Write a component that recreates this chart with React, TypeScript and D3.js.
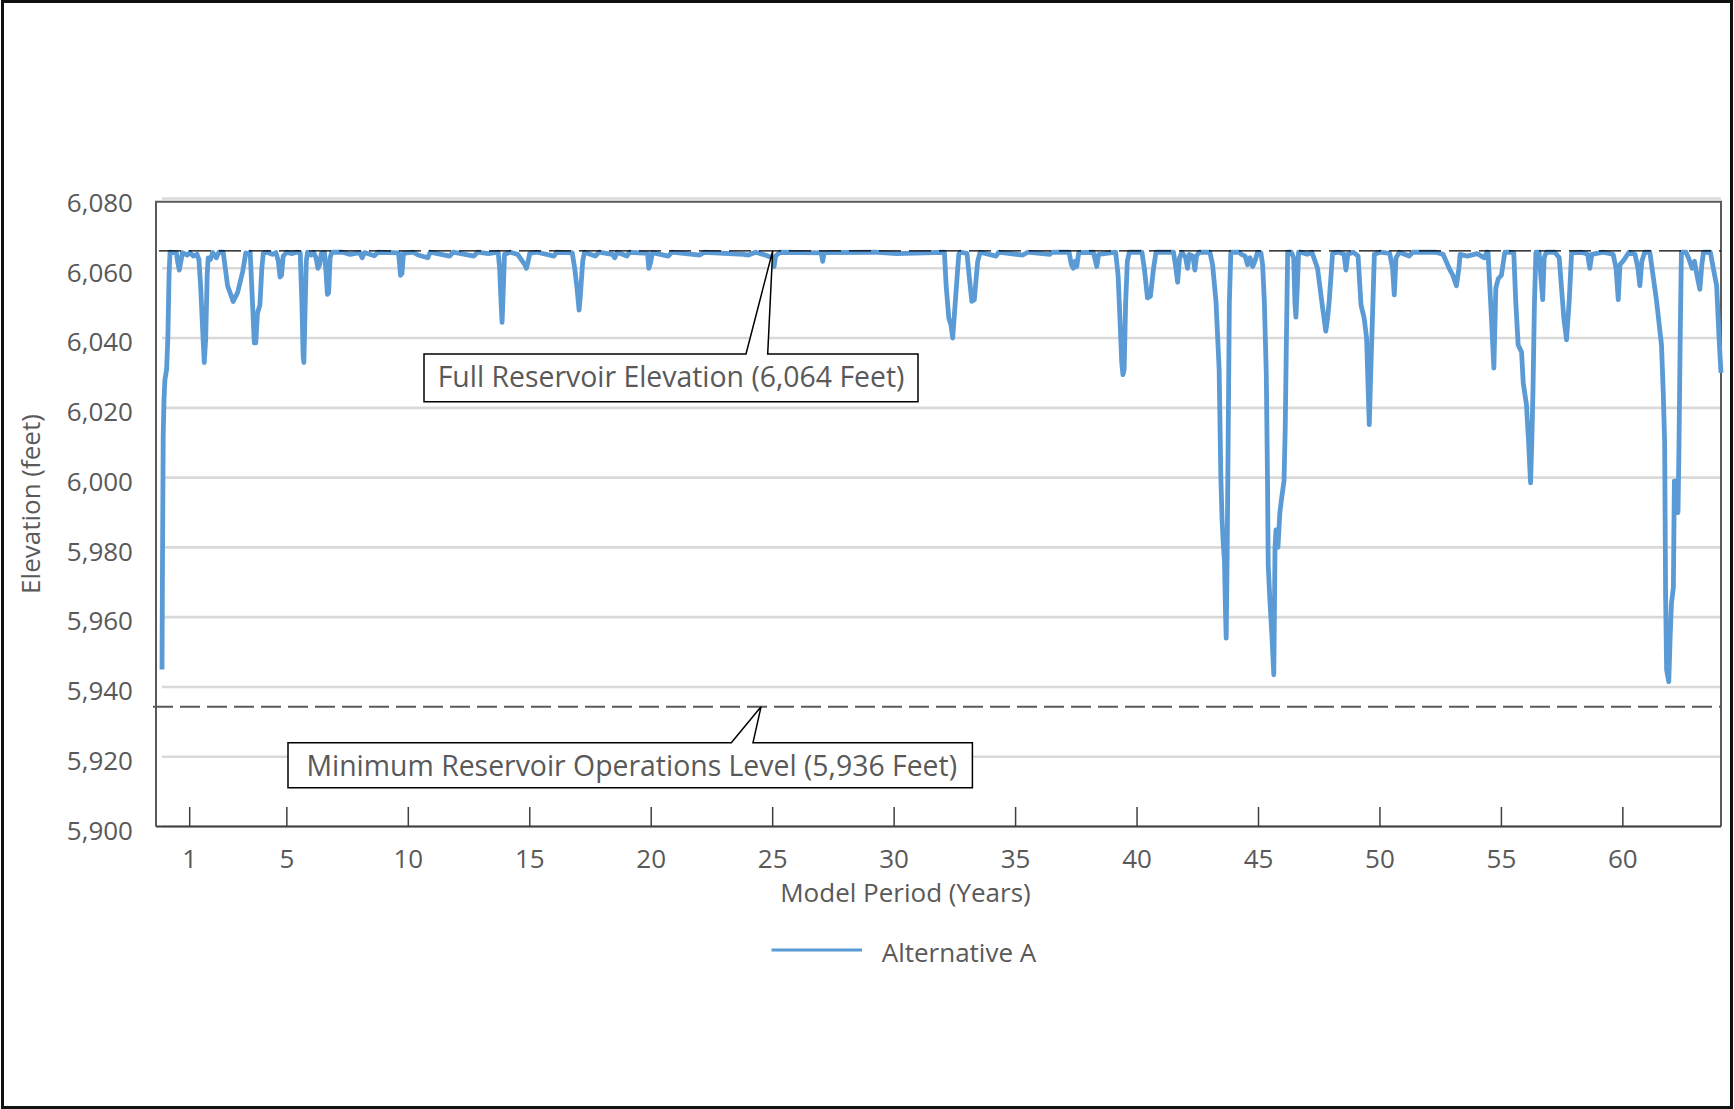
import React from "react";
import * as d3 from "d3";

// ---- data (Model Period year, elevation in feet) ----
const elevationYears0to13: [number, number][] = [
  [-0.14, 5945], [-0.12, 5975], [-0.09, 6012], [-0.06, 6022], [-0.02, 6028], [0.05, 6031], [0.1, 6040], [0.15, 6058], [0.19, 6064.6],
  [0.45, 6064.4], [0.5, 6062], [0.57, 6059.5], [0.64, 6062], [0.7, 6064.5], [0.9, 6063.8], [1.0, 6064.5], [1.15, 6063.5], [1.3, 6064], [1.38, 6062.5],
  [1.45, 6055], [1.55, 6040], [1.6, 6033], [1.66, 6040], [1.72, 6058], [1.76, 6063], [1.85, 6062.5], [1.95, 6064.5], [2.1, 6063], [2.2, 6064.6], [2.38, 6064.6],
  [2.56, 6055], [2.79, 6050.5], [2.97, 6053], [3.18, 6059], [3.31, 6064.4], [3.45, 6064],
  [3.49, 6064.6], [3.59, 6049.5], [3.66, 6038.6], [3.72, 6038.6], [3.79, 6047.1], [3.89, 6049.5], [3.97, 6060], [4.03, 6064.3],
  [4.2, 6064.6], [4.4, 6064], [4.55, 6064.5], [4.65, 6062], [4.72, 6057.5], [4.78, 6058], [4.85, 6063.5], [5.0, 6064.6], [5.2, 6064.2], [5.4, 6064.6],
  [5.55, 6064.5], [5.62, 6050], [5.67, 6035], [5.7, 6033], [5.74, 6045], [5.8, 6062], [5.85, 6064.6], [6.0, 6063.8], [6.1, 6064.6], [6.2, 6063], [6.28, 6060], [6.35, 6061],
  [6.42, 6064.3], [6.55, 6064.5], [6.62, 6058], [6.67, 6052.5], [6.72, 6053], [6.78, 6063], [6.85, 6064.6],
  [7.3, 6064.6], [7.6, 6064], [8.0, 6064.5], [8.1, 6063], [8.2, 6064.5], [8.6, 6063.6], [8.75, 6064.6], [9.6, 6064.4], [9.68, 6058], [9.74, 6058.5], [9.8, 6064.3],
  [10.2, 6064.6], [10.4, 6063.8], [10.8, 6063], [10.9, 6064.6], [11.7, 6063.5], [11.85, 6064.6], [12.7, 6063.5], [12.85, 6064.6],
];

const elevationYears13to32: [number, number][] = [
  [13.3, 6064.2], [13.7, 6064.6], [13.76, 6060], [13.82, 6050], [13.86, 6044.5], [13.9, 6052], [13.96, 6064], [14.2, 6064.6], [14.5, 6064],
  [14.8, 6061], [14.86, 6060], [14.92, 6061.5], [15.0, 6064.3], [15.3, 6064.6], [16.0, 6063.5], [16.1, 6064.6],
  [16.75, 6064.4], [16.85, 6060], [16.95, 6054], [17.03, 6048], [17.08, 6052], [17.18, 6062], [17.25, 6064.6],
  [17.7, 6063.5], [17.85, 6064.6], [18.4, 6064], [18.5, 6063], [18.6, 6064.6], [19.0, 6063.5], [19.1, 6064.6],
  [19.85, 6064.3], [19.9, 6060], [19.97, 6061.5], [20.05, 6064.5], [20.7, 6063.5], [20.85, 6064.6], [22.0, 6063.8], [22.2, 6064.6],
  [23.8, 6064], [24.0, 6063.8], [24.3, 6064.6], [24.6, 6064], [25.0, 6063], [25.06, 6060.5], [25.12, 6063.5], [25.3, 6064.6],
  [27.0, 6064.4], [27.06, 6062], [27.12, 6064.5], [29.2, 6064.6], [30.1, 6064.2], [32.07, 6064.6],
];

const elevationYears32to48: [number, number][] = [
  [32.14, 6055.2], [32.25, 6045.7], [32.34, 6043.8], [32.41, 6040], [32.52, 6050.5], [32.66, 6064], [32.72, 6064.6], [33.0, 6064.3],
  [33.1, 6057], [33.2, 6050.5], [33.3, 6051], [33.44, 6062], [33.54, 6064.6], [34.2, 6063.5], [34.3, 6064.6], [35.3, 6063.8], [35.5, 6064.6],
  [36.4, 6064], [36.5, 6064.6], [37.2, 6064.6], [37.3, 6061], [37.38, 6060], [37.45, 6062], [37.52, 6060.5], [37.6, 6064.5],
  [38.2, 6064.6], [38.34, 6060.5], [38.42, 6064], [39.12, 6064.6],
  [39.22, 6058], [39.3, 6045], [39.37, 6033], [39.42, 6029.5], [39.47, 6031], [39.53, 6050], [39.6, 6062], [39.68, 6064.6],
  [40.2, 6064.6], [40.3, 6060], [40.43, 6051.5], [40.55, 6052], [40.68, 6060], [40.78, 6064.6], [41.5, 6064.6], [41.6, 6060], [41.67, 6056],
  [41.75, 6063], [41.85, 6064.6], [42.0, 6063], [42.08, 6060], [42.15, 6064], [42.3, 6063.5], [42.38, 6059.5], [42.45, 6063.5], [42.55, 6064.6], [43.0, 6064.6],
  [43.11, 6061], [43.25, 6050.5], [43.38, 6031], [43.45, 6000], [43.5, 5988], [43.55, 5981], [43.6, 5976], [43.64, 5962], [43.67, 5954],
  [43.71, 5978], [43.75, 6010], [43.8, 6050], [43.86, 6064.6],
  [44.2, 6064.6], [44.3, 6064], [44.45, 6063.5], [44.55, 6061], [44.65, 6063], [44.76, 6060.5], [44.85, 6062], [44.96, 6064.6], [45.1, 6064.4],
  [45.17, 6061], [45.24, 6050.5], [45.32, 6030], [45.37, 6000], [45.4, 5975], [45.46, 5966], [45.55, 5955], [45.63, 5943.5],
  [45.66, 5965], [45.68, 5980], [45.72, 5985], [45.8, 5980], [45.88, 5990], [45.96, 5994.5], [46.05, 5999], [46.1, 6014], [46.14, 6035], [46.2, 6064.6],
  [46.35, 6064.6], [46.45, 6063], [46.5, 6050], [46.54, 6046], [46.6, 6055], [46.65, 6064.6], [46.75, 6064.6], [47.0, 6064], [47.2, 6064.6],
  [47.43, 6060], [47.64, 6048.6], [47.77, 6042], [47.85, 6046], [47.91, 6050.5], [48.05, 6064.3],
];

const elevationYears48to64: [number, number][] = [
  [48.3, 6064.6], [48.52, 6064], [48.6, 6059.5], [48.68, 6064], [48.9, 6064.6], [49.1, 6063.5], [49.22, 6049.5], [49.35, 6045.7],
  [49.45, 6040], [49.56, 6015.2], [49.62, 6030], [49.67, 6041], [49.77, 6064], [50.0, 6064.6], [50.4, 6064.3], [50.52, 6060], [50.59, 6052.4],
  [50.66, 6063], [50.8, 6064.6], [51.2, 6063.5], [51.35, 6064.6],
  [52.3, 6064.6], [52.6, 6064], [52.85, 6060], [53.0, 6058], [53.15, 6055], [53.25, 6060], [53.3, 6064], [53.6, 6063.5], [54.0, 6064.2], [54.3, 6063], [54.4, 6064.6],
  [54.45, 6064.6], [54.59, 6045.7], [54.69, 6031.4], [54.77, 6054.3], [54.87, 6057], [55.0, 6058], [55.14, 6064.6], [55.3, 6064.6],
  [55.51, 6064.4], [55.59, 6050.5], [55.69, 6038], [55.83, 6036], [55.9, 6027], [56.03, 6021], [56.12, 6010], [56.2, 5998.5],
  [56.25, 6010], [56.3, 6025], [56.36, 6050], [56.42, 6064.6],
  [56.55, 6064.6], [56.62, 6058], [56.7, 6051], [56.76, 6063], [56.85, 6064.6], [57.2, 6064.6],
  [57.38, 6063], [57.57, 6045.7], [57.68, 6039.5], [57.79, 6050.5], [57.89, 6064.5], [58.3, 6064.6], [58.55, 6064], [58.64, 6060], [58.72, 6064],
  [59.2, 6064.6], [59.6, 6064], [59.72, 6060], [59.81, 6051], [59.88, 6061], [60.0, 6062], [60.1, 6063], [60.25, 6064.6],
  [60.5, 6064], [60.62, 6060], [60.7, 6055], [60.78, 6062], [60.9, 6064.6], [61.11, 6064.6],
  [61.39, 6050.5], [61.59, 6038], [61.66, 6025], [61.72, 6010], [61.76, 5966], [61.8, 5945], [61.89, 5941.5], [61.95, 5955], [62.0, 5964],
  [62.08, 5968.5], [62.12, 5999], [62.2, 5999], [62.27, 5990], [62.31, 6009], [62.36, 6040], [62.41, 6064.6],
  [62.6, 6064.6], [62.7, 6063], [62.85, 6060], [62.95, 6062], [63.05, 6058], [63.17, 6054], [63.25, 6061], [63.32, 6064.6], [63.6, 6064.6],
  [63.86, 6055], [63.96, 6040], [64.04, 6030],
];

const xTickYears = [1, 5, 10, 15, 20, 25, 30, 35, 40, 45, 50, 55, 60];
const yTickFeet = [5900, 5920, 5940, 5960, 5980, 6000, 6020, 6040, 6060, 6080];
const xDomain: [number, number] = [-0.14, 64.04];
const yDomain: [number, number] = [5900, 6080];

const fullLevelDrawn = 6065.0;
const fullLevelLabel = "Full Reservoir Elevation (6,064 Feet)";
const fullCalloutYear = 25;
const minLevelDrawn = 5934.3;
const minLevelLabel = "Minimum Reservoir Operations Level (5,936 Feet)";
const minCalloutYear = 24.52;

const seriesName = "Alternative A";
const xTitle = "Model Period (Years)";
const yTitle = "Elevation (feet)";

const BLUE = "#5B9BD5";
const TEXT = "#595959";
const FONT = "'Open Sans', 'Noto Sans', sans-serif";

export default function App() {
  const W = 1734;
  const H = 1109;
  const plotL = 162, plotR = 1721, frameL = 156, frameT = 201.7, plotB = 826.5;

  const x = d3.scaleLinear().domain(xDomain).range([plotL, plotR]);
  const y = d3.scaleLinear().domain(yDomain).range([plotB, 198.5]);

  const data = [...elevationYears0to13, ...elevationYears13to32, ...elevationYears32to48, ...elevationYears48to64];
  const line = d3.line<[number, number]>().x(d => x(d[0])).y(d => y(d[1])).curve(d3.curveLinear);

  const fullY = y(fullLevelDrawn);
  const minY = y(minLevelDrawn);
  const fullTipX = x(fullCalloutYear);
  const minTipX = x(minCalloutYear);

  // callout boxes (layout)
  const fb = { l: 424, r: 918, t: 354, b: 401.7, g1: 746, g2: 767.7 };
  const mb = { l: 288, r: 972.4, t: 742.7, b: 787.7, g1: 731.3, g2: 753 };

  return (
    <svg width={W} height={H} style={{ position: "absolute", left: 0, top: 0, background: "#fff" }} fontFamily={FONT}>
      <rect x={0} y={0} width={W} height={H} fill="#fff" />
      <rect x={2.5} y={1.5} width={W - 5} height={H - 3} fill="none" stroke="#111" strokeWidth={3} />

      {/* gridlines */}
      {yTickFeet.map(v => (
        <line key={v} x1={plotL} x2={plotR} y1={y(v)} y2={y(v)} stroke="#d9d9d9" strokeWidth={2.6} />
      ))}

      {/* plot frame */}
      <path d={`M${frameL},${plotB} L${frameL},${frameT} L${plotR},${frameT} L${plotR},${plotB}`} fill="none" stroke="#5a5a5a" strokeWidth={2} />

      {/* series */}
      <path d={line(data) || ""} fill="none" stroke={BLUE} strokeWidth={4.8} strokeLinejoin="round" />

      {/* full reservoir dashed line */}
      <line x1={159} x2={plotR} y1={fullY} y2={fullY} stroke="#000" strokeWidth={1.3} strokeDasharray="22,8" />
      {/* min reservoir dashed line */}
      <line x1={153} x2={plotR} y1={minY} y2={minY} stroke="#595959" strokeWidth={2} strokeDasharray="20,7" />

      {/* x axis */}
      <line x1={frameL} x2={plotR} y1={plotB} y2={plotB} stroke="#404040" strokeWidth={2} />
      {xTickYears.map(t => (
        <g key={t}>
          <line x1={x(t)} x2={x(t)} y1={plotB} y2={plotB - 19.5} stroke="#404040" strokeWidth={1.5} />
          <text x={x(t)} y={868} textAnchor="middle" fontSize={26} fill={TEXT}>{t}</text>
        </g>
      ))}
      {yTickFeet.map(v => (
        <text key={v} x={133} y={y(v) + 13.3} textAnchor="end" fontSize={26} fill={TEXT}>{d3.format(",")(v)}</text>
      ))}

      <text x={905.5} y={902} textAnchor="middle" fontSize={26} fill={TEXT}>{xTitle}</text>
      <text transform="translate(40,504) rotate(-90)" textAnchor="middle" fontSize={26} fill={TEXT}>{yTitle}</text>

      {/* callouts */}
      <path d={`M${fb.l},${fb.t} L${fb.g1},${fb.t} L${fullTipX},${fullY} L${fb.g2},${fb.t} L${fb.r},${fb.t} L${fb.r},${fb.b} L${fb.l},${fb.b} Z`}
        fill="#fff" stroke="#000" strokeWidth={1.5} />
      <text x={437.7} y={386.7} fontSize={28.4} fill={TEXT}>{fullLevelLabel}</text>
      <path d={`M${mb.l},${mb.t} L${mb.g1},${mb.t} L${minTipX},${minY} L${mb.g2},${mb.t} L${mb.r},${mb.t} L${mb.r},${mb.b} L${mb.l},${mb.b} Z`}
        fill="#fff" stroke="#000" strokeWidth={1.5} />
      <text x={306.5} y={776.3} fontSize={28.4} fill={TEXT}>{minLevelLabel}</text>

      {/* legend */}
      <line x1={771.5} x2={862} y1={950} y2={950} stroke={BLUE} strokeWidth={3} />
      <text x={881.7} y={962} fontSize={26} fill={TEXT}>{seriesName}</text>
    </svg>
  );
}
